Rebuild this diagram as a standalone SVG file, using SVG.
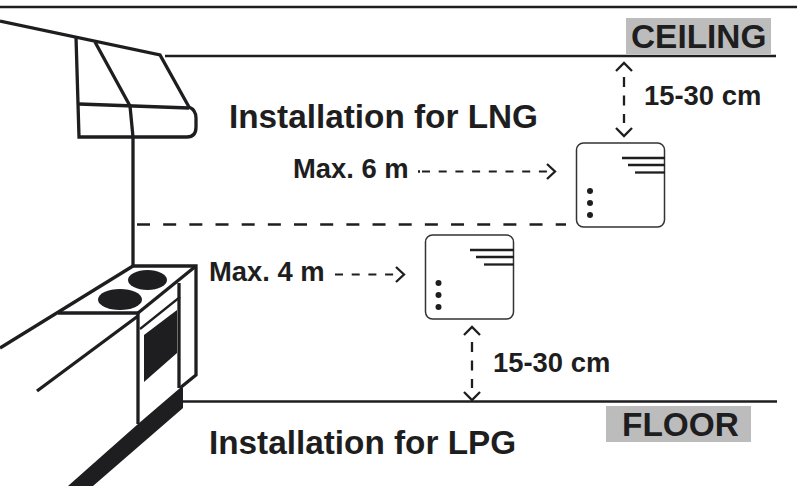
<svg xmlns="http://www.w3.org/2000/svg" width="797" height="486" viewBox="0 0 797 486">
<style>
text{font-family:"Liberation Sans",Arial,sans-serif;font-weight:700;fill:#1e1e20}
.big{font-size:33.300px}.lab{font-size:27.400px}.sm{font-size:27.400px}.tag{font-size:33.400px}
.l{fill:none;stroke:#1e1e20;stroke-width:3.300;stroke-linejoin:miter}
.t{fill:none;stroke:#1e1e20;stroke-width:2.300}
.d{fill:none;stroke:#1e1e20;stroke-width:2.300;stroke-dasharray:10 8.500}
.dl{fill:none;stroke:#1e1e20;stroke-width:2.300;stroke-dasharray:13 13.170}
.ds{fill:none;stroke:#1e1e20;stroke-width:2;stroke-dasharray:8 8.700}
.a{fill:none;stroke:#1e1e20;stroke-width:2.300}
.box{fill:#fff;stroke:#333;stroke-width:1.500}
.f{fill:#1e1e20}
.gr{fill:#bcbcbc}
</style>
<g id="room">
<line class="t" x1="0" y1="7" x2="797" y2="7"/>
<line class="t" x1="165" y1="56" x2="776" y2="56"/>
<line class="t" x1="183" y1="401.500" x2="777" y2="401.500"/>
</g>
<g id="hood">
<path class="l" d="M0 21L160 55L189 107Q196 110 196 118V127Q196 137 187 137H79L76 37"/>
<path class="l" d="M95 42L130 106L133 137V266"/>
<line class="l" x1="79" y1="104" x2="189" y2="108"/>
</g>
<g id="stove">
<path class="l" d="M133 266H196V375L180 388"/>
<path class="l" d="M0 348L133 266"/>
<path class="l" d="M58 313H138V424"/>
<path class="l" d="M138 313L196 266"/>
<path class="l" d="M138 316L37 391"/>
<line class="l" x1="179" y1="283" x2="179" y2="388"/>
<line class="t" x1="140" y1="329" x2="180" y2="297"/>
<ellipse class="f" cx="147.500" cy="280" rx="19.500" ry="10"/>
<ellipse class="f" cx="120" cy="299.500" rx="22" ry="10.500"/>
<polygon class="f" points="144,335 177,310 177,353 144,382"/>
<polygon class="f" points="138,424 180,388 183,388 183,408 93,486 68,486"/>
</g>
<g id="connectors">
<line class="dl" x1="137" y1="224.500" x2="566" y2="224.500"/>
<line class="ds" x1="422" y1="171.500" x2="548" y2="171.500"/>
<line class="t" x1="418" y1="171.500" x2="420" y2="171.500"/>
<path class="a" d="M547 164L555 171.500L547 179"/>
<line class="ds" x1="335" y1="274.500" x2="398" y2="274.500"/>
<path class="a" d="M396 267L404 274.500L396 282"/>
<line class="d" x1="624" y1="77" x2="624" y2="123"/>
<path class="a" d="M616 71L624 63L632 71"/>
<path class="a" d="M616 128L624 136L632 128"/>
<line class="d" x1="472" y1="342" x2="472" y2="388"/>
<path class="a" d="M464 335L472 327L480 335"/>
<path class="a" d="M464 392L472 400L480 392"/>
</g>
<g id="boiler-lng">
<rect class="box" x="576.500" y="143" width="88" height="84" rx="7"/>
<line class="t" x1="622" y1="158" x2="665" y2="158"/>
<line class="t" x1="628" y1="165" x2="665" y2="165"/>
<line class="t" x1="635" y1="172.500" x2="665" y2="172.500"/>
<circle class="f" cx="590" cy="191" r="3"/><circle class="f" cx="590" cy="203" r="3"/><circle class="f" cx="590" cy="215" r="3"/>
</g>
<g id="boiler-lpg">
<rect class="box" x="425.500" y="235" width="88" height="84" rx="7"/>
<line class="t" x1="470" y1="250" x2="514" y2="250"/>
<line class="t" x1="476" y1="257" x2="514" y2="257"/>
<line class="t" x1="484" y1="264.500" x2="514" y2="264.500"/>
<circle class="f" cx="438.500" cy="283" r="3"/><circle class="f" cx="438.500" cy="295" r="3"/><circle class="f" cx="438.500" cy="307" r="3"/>
</g>
<g id="ceiling"><rect class="gr" x="626" y="18" width="145" height="36"/><text class="tag" x="631" y="48">CEILING</text></g>
<g id="floor"><rect class="gr" x="606" y="406" width="145" height="36"/><text class="tag" x="622" y="436">FLOOR</text></g>
<text class="big" x="229" y="128">Installation for LNG</text>
<text class="big" x="209" y="454">Installation for LPG</text>
<text class="sm" x="293" y="178">Max. 6 m</text>
<text class="sm" x="209" y="281">Max. 4 m</text>
<text class="lab" x="644" y="105">15-30 cm</text>
<text class="lab" x="493" y="372">15-30 cm</text>
</svg>
